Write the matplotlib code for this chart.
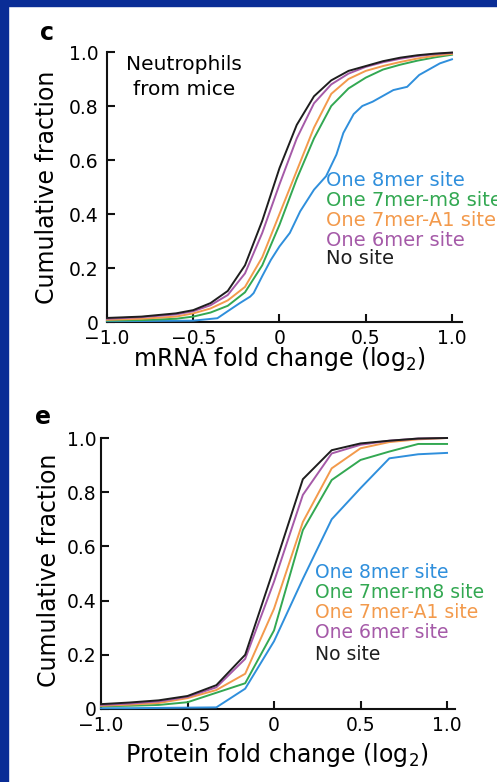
import matplotlib
matplotlib.use("Agg")
import matplotlib.pyplot as plt
from matplotlib.patches import Rectangle

# Series names and colours
site_names = ["One 8mer site", "One 7mer-m8 site", "One 7mer-A1 site", "One 6mer site", "No site"]
site_colors = ["#2f8fdc", "#33a852", "#f39a4c", "#a55aa8", "#1e1e1e"]

# Panel c: mRNA fold change (log2), neutrophils from mice
mrna_x = [-1.0, -0.8, -0.6, -0.5, -0.4, -0.3, -0.2, -0.1, 0.0, 0.1, 0.2, 0.3, 0.4, 0.5, 0.6, 0.7, 0.8, 0.9, 1.0]
mrna_7mer_m8 = [0.005, 0.007, 0.012, 0.02, 0.035, 0.06, 0.11, 0.21, 0.36, 0.53, 0.68, 0.80, 0.865, 0.905, 0.935, 0.953, 0.968, 0.98, 0.99]
mrna_7mer_a1 = [0.008, 0.012, 0.02, 0.032, 0.05, 0.08, 0.13, 0.24, 0.40, 0.56, 0.72, 0.845, 0.90, 0.93, 0.948, 0.963, 0.976, 0.986, 0.993]
mrna_6mer = [0.012, 0.018, 0.028, 0.04, 0.062, 0.10, 0.18, 0.33, 0.51, 0.68, 0.81, 0.88, 0.92, 0.945, 0.962, 0.975, 0.985, 0.992, 0.997]
mrna_nosite = [0.015, 0.02, 0.032, 0.044, 0.07, 0.115, 0.21, 0.375, 0.57, 0.73, 0.836, 0.895, 0.93, 0.948, 0.966, 0.979, 0.988, 0.994, 0.998]
# 8mer curve is jagged, read on its own x grid
mrna_8mer_x = [-1.0, -0.5, -0.36, -0.3, -0.23, -0.17, -0.15, -0.1, -0.05, 0.0, 0.06, 0.12, 0.2, 0.27,
               0.33, 0.37, 0.43, 0.48, 0.54, 0.66, 0.74, 0.81, 0.93, 1.0]
mrna_8mer = [0.003, 0.005, 0.014, 0.04, 0.07, 0.094, 0.107, 0.17, 0.23, 0.28, 0.33, 0.41, 0.49, 0.54,
             0.62, 0.70, 0.77, 0.80, 0.816, 0.859, 0.871, 0.915, 0.958, 0.973]

# Panel e: protein fold change (log2), bins of 1/6
prot_x = [-1.0, -5/6, -4/6, -0.5, -2/6, -1/6, 0.0, 1/6, 2/6, 0.5, 4/6, 5/6, 1.0]
prot_8mer = [0.003, 0.003, 0.004, 0.005, 0.006, 0.075, 0.25, 0.48, 0.70, 0.815, 0.925, 0.94, 0.945]
prot_7mer_m8 = [0.01, 0.012, 0.015, 0.025, 0.06, 0.095, 0.29, 0.66, 0.845, 0.919, 0.95, 0.978, 0.978]
prot_7mer_a1 = [0.012, 0.016, 0.022, 0.04, 0.07, 0.13, 0.37, 0.69, 0.888, 0.962, 0.985, 0.995, 1.0]
prot_6mer = [0.015, 0.02, 0.028, 0.045, 0.08, 0.185, 0.47, 0.79, 0.943, 0.975, 0.99, 0.998, 1.0]
prot_nosite = [0.018, 0.024, 0.032, 0.048, 0.088, 0.20, 0.52, 0.848, 0.955, 0.98, 0.99, 0.998, 1.0]

W, H = 497, 782
fig = plt.figure(figsize=(W / 100, H / 100), dpi=100)
fig.patch.set_facecolor("white")

# dark blue slide frame on top and left
frame = "#0a2d96"
fig.patches.append(Rectangle((0, 1 - 6 / H), 1, 6 / H, transform=fig.transFigure, color=frame, zorder=0))
fig.patches.append(Rectangle((0, 0), 8 / W, 1, transform=fig.transFigure, color=frame, zorder=0))


def px_axes(left, right, bottom, top):
    # axes from pixel box (top-left origin)
    return fig.add_axes([left / W, 1 - bottom / H, (right - left) / W, (bottom - top) / H])


def style_axes(ax, xmax, ypad):
    ax.set_xlim(-1.0, xmax)
    ax.set_ylim(0, 1.0)
    for s in ["top", "right"]:
        ax.spines[s].set_visible(False)
    for s in ["left", "bottom"]:
        ax.spines[s].set_linewidth(1.5)
        ax.spines[s].set_color("#111111")
    ax.spines["left"].set_bounds(0, 1.0)
    ax.set_xticks([-1.0, -0.5, 0, 0.5, 1.0])
    ax.set_xticklabels(["\u22121.0", "\u22120.5", "0", "0.5", "1.0"])
    ax.set_yticks([0, 0.2, 0.4, 0.6, 0.8, 1.0])
    ax.set_yticklabels(["0", "0.2", "0.4", "0.6", "0.8", "1.0"])
    ax.tick_params(direction="in", length=6, width=1.5, labelsize=13.5, color="#111111")
    ax.tick_params(axis="x", pad=5)
    ax.tick_params(axis="y", pad=ypad)
    ax.patch.set_alpha(0)


def fig_text(x, y, s, **kw):
    fig.text(x / W, 1 - y / H, s, **kw)


# ---- panel c ----
ax1 = px_axes(107, 462, 322, 52)
style_axes(ax1, 1.058, 6)
c_series = [mrna_8mer, mrna_7mer_m8, mrna_7mer_a1, mrna_6mer, mrna_nosite]
for i, ys in enumerate(c_series):
    xs = mrna_8mer_x if i == 0 else mrna_x
    ax1.plot(xs, ys, color=site_colors[i], lw=1.4, clip_on=False, zorder=3 + i)

fig_text(47, 33, "c", fontsize=17, fontweight="bold", ha="center", va="center")
fig_text(184, 77, "Neutrophils\nfrom mice", fontsize=14.5, ha="center", va="center", linespacing=1.4)
fig_text(47, 187, "Cumulative fraction", fontsize=17, rotation=90, ha="center", va="center")
fig_text(279, 366, "mRNA fold change (log$_2$)", fontsize=17, ha="center", va="baseline")
for name, col, yy in zip(site_names, site_colors, [181, 201, 221, 240, 259]):
    fig_text(326, yy, name, fontsize=14, color=col, ha="left", va="center")

# ---- panel e ----
ax2 = px_axes(101, 455, 709, 438)
style_axes(ax2, 1.046, 3.5)
e_series = [prot_8mer, prot_7mer_m8, prot_7mer_a1, prot_6mer, prot_nosite]
for i, ys in enumerate(e_series):
    ax2.plot(prot_x, ys, color=site_colors[i], lw=1.4, clip_on=False, zorder=3 + i)

fig_text(43, 417, "e", fontsize=17, fontweight="bold", ha="center", va="center")
fig_text(49, 570, "Cumulative fraction", fontsize=17, rotation=90, ha="center", va="center")
fig_text(277, 762, "Protein fold change (log$_2$)", fontsize=17, ha="center", va="baseline")
for name, col, yy in zip(site_names, site_colors, [572, 593, 613, 633, 655]):
    fig_text(315, yy, name, fontsize=13.5, color=col, ha="left", va="center")

fig.savefig("out.png", dpi=100)
